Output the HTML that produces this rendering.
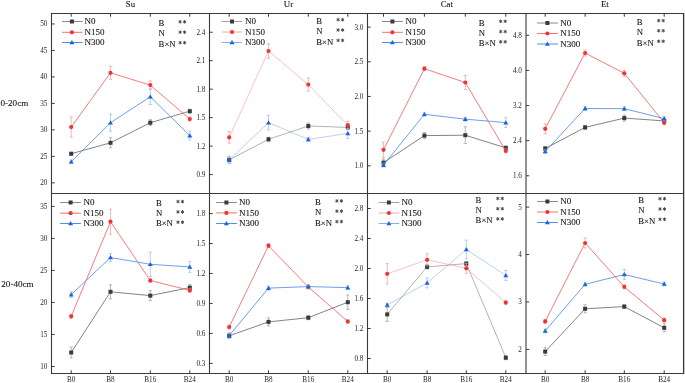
<!DOCTYPE html>
<html><head><meta charset="utf-8"><style>
html,body{margin:0;padding:0;background:#fff;width:685px;height:383px;overflow:hidden}
svg{display:block;will-change:transform}
text{font-family:"Liberation Serif", serif;fill:#151515;stroke:#151515;stroke-width:0.1px}
.ast{fill:#555;stroke:#555}
.tl{stroke:none;fill:#262626}
</style></head><body>
<svg width="685" height="383" viewBox="0 0 685 383">
<rect width="685" height="383" fill="#fff"/>
<line x1="51.5" y1="13.0" x2="51.5" y2="374.0" stroke="#3a3a3a" stroke-width="1.1"/>
<line x1="209.5" y1="13.0" x2="209.5" y2="374.0" stroke="#3a3a3a" stroke-width="1.1"/>
<line x1="367.5" y1="13.0" x2="367.5" y2="374.0" stroke="#3a3a3a" stroke-width="1.1"/>
<line x1="526" y1="13.0" x2="526" y2="374.0" stroke="#3a3a3a" stroke-width="1.1"/>
<line x1="683.5" y1="13.0" x2="683.5" y2="374.0" stroke="#3a3a3a" stroke-width="1.1"/>
<line x1="51.0" y1="13.5" x2="684.0" y2="13.5" stroke="#3a3a3a" stroke-width="1.1"/>
<line x1="51.0" y1="193.5" x2="684.0" y2="193.5" stroke="#3a3a3a" stroke-width="1.1"/>
<line x1="51.0" y1="373.5" x2="684.0" y2="373.5" stroke="#3a3a3a" stroke-width="1.1"/>
<line x1="684.5" y1="13.0" x2="684.5" y2="374.0" stroke="#c4c4c4" stroke-width="1"/>
<text x="130.5" y="6.9" font-size="8.8" text-anchor="middle">Su</text>
<text x="288.5" y="6.9" font-size="8.8" text-anchor="middle">Ur</text>
<text x="446.8" y="6.9" font-size="8.8" text-anchor="middle">Cat</text>
<text x="604.8" y="6.9" font-size="8.8" text-anchor="middle">Et</text>
<text x="0.5" y="106" font-size="9.1">0-20cm</text>
<text x="1.3" y="286.8" font-size="9.1">20-40cm</text>
<line x1="51.5" y1="23.93" x2="54.7" y2="23.93" stroke="#3a3a3a" stroke-width="1"/>
<text x="47.4" y="26.43" font-size="7.2" text-anchor="end" class="tl">50</text>
<line x1="51.5" y1="50.42" x2="54.7" y2="50.42" stroke="#3a3a3a" stroke-width="1"/>
<text x="47.4" y="52.92" font-size="7.2" text-anchor="end" class="tl">45</text>
<line x1="51.5" y1="76.91" x2="54.7" y2="76.91" stroke="#3a3a3a" stroke-width="1"/>
<text x="47.4" y="79.41" font-size="7.2" text-anchor="end" class="tl">40</text>
<line x1="51.5" y1="103.40" x2="54.7" y2="103.40" stroke="#3a3a3a" stroke-width="1"/>
<text x="47.4" y="105.90" font-size="7.2" text-anchor="end" class="tl">35</text>
<line x1="51.5" y1="129.89" x2="54.7" y2="129.89" stroke="#3a3a3a" stroke-width="1"/>
<text x="47.4" y="132.39" font-size="7.2" text-anchor="end" class="tl">30</text>
<line x1="51.5" y1="156.38" x2="54.7" y2="156.38" stroke="#3a3a3a" stroke-width="1"/>
<text x="47.4" y="158.88" font-size="7.2" text-anchor="end" class="tl">25</text>
<line x1="51.5" y1="182.87" x2="54.7" y2="182.87" stroke="#3a3a3a" stroke-width="1"/>
<text x="47.4" y="185.37" font-size="7.2" text-anchor="end" class="tl">20</text>
<line x1="71.2" y1="13.5" x2="71.2" y2="16.7" stroke="#3a3a3a" stroke-width="1"/>
<line x1="110.5" y1="13.5" x2="110.5" y2="16.7" stroke="#3a3a3a" stroke-width="1"/>
<line x1="150.3" y1="13.5" x2="150.3" y2="16.7" stroke="#3a3a3a" stroke-width="1"/>
<line x1="189.8" y1="13.5" x2="189.8" y2="16.7" stroke="#3a3a3a" stroke-width="1"/>
<path d="M71.20 152.25V155.25M69.60 152.25H72.80M69.60 155.25H72.80" stroke="#9a9a9a" stroke-width="0.7" fill="none"/>
<path d="M110.50 137.80V147.80M108.90 137.80H112.10M108.90 147.80H112.10" stroke="#9a9a9a" stroke-width="0.7" fill="none"/>
<path d="M150.30 119.70V125.70M148.70 119.70H151.90M148.70 125.70H151.90" stroke="#9a9a9a" stroke-width="0.7" fill="none"/>
<path d="M189.80 109.20V113.20M188.20 109.20H191.40M188.20 113.20H191.40" stroke="#9a9a9a" stroke-width="0.7" fill="none"/>
<polyline points="71.20,153.75 110.50,142.80 150.30,122.70 189.80,111.20" fill="none" stroke="#636363" stroke-width="0.8"/>
<rect x="69.20" y="151.75" width="4" height="4" fill="#3a3a3a"/>
<rect x="108.50" y="140.80" width="4" height="4" fill="#3a3a3a"/>
<rect x="148.30" y="120.70" width="4" height="4" fill="#3a3a3a"/>
<rect x="187.80" y="109.20" width="4" height="4" fill="#3a3a3a"/>
<path d="M71.20 117.00V137.20M69.60 117.00H72.80M69.60 137.20H72.80" stroke="#f29a9a" stroke-width="0.7" fill="none"/>
<path d="M110.50 66.20V79.40M108.90 66.20H112.10M108.90 79.40H112.10" stroke="#f29a9a" stroke-width="0.7" fill="none"/>
<path d="M150.30 80.90V89.30M148.70 80.90H151.90M148.70 89.30H151.90" stroke="#f29a9a" stroke-width="0.7" fill="none"/>
<path d="M189.80 117.10V121.10M188.20 117.10H191.40M188.20 121.10H191.40" stroke="#f29a9a" stroke-width="0.7" fill="none"/>
<polyline points="71.20,127.10 110.50,72.80 150.30,85.10 189.80,119.10" fill="none" stroke="#f05a5a" stroke-width="0.8"/>
<circle cx="71.20" cy="127.10" r="2.1" fill="#f03434"/>
<circle cx="110.50" cy="72.80" r="2.1" fill="#f03434"/>
<circle cx="150.30" cy="85.10" r="2.1" fill="#f03434"/>
<circle cx="189.80" cy="119.10" r="2.1" fill="#f03434"/>
<path d="M71.20 159.80V163.80M69.60 159.80H72.80M69.60 163.80H72.80" stroke="#98b8ee" stroke-width="0.7" fill="none"/>
<path d="M110.50 114.20V131.20M108.90 114.20H112.10M108.90 131.20H112.10" stroke="#98b8ee" stroke-width="0.7" fill="none"/>
<path d="M150.30 89.00V104.60M148.70 89.00H151.90M148.70 104.60H151.90" stroke="#98b8ee" stroke-width="0.7" fill="none"/>
<path d="M189.80 131.30V139.90M188.20 131.30H191.40M188.20 139.90H191.40" stroke="#98b8ee" stroke-width="0.7" fill="none"/>
<polyline points="71.20,161.80 110.50,122.70 150.30,96.80 189.80,135.60" fill="none" stroke="#4a86e2" stroke-width="0.8"/>
<path d="M71.20 159.40L73.70 163.60L68.70 163.60Z" fill="#1f63d8"/>
<path d="M110.50 120.30L113.00 124.50L108.00 124.50Z" fill="#1f63d8"/>
<path d="M150.30 94.40L152.80 98.60L147.80 98.60Z" fill="#1f63d8"/>
<path d="M189.80 133.20L192.30 137.40L187.30 137.40Z" fill="#1f63d8"/>
<line x1="62.1" y1="21.5" x2="82.7" y2="21.5" stroke="#7c7c7c" stroke-width="0.9"/>
<rect x="69.90" y="19.50" width="4" height="4" fill="#3a3a3a"/>
<text x="84.6" y="24.40" font-size="9">N0</text>
<line x1="62.1" y1="32.3" x2="82.7" y2="32.3" stroke="#f06060" stroke-width="0.9"/>
<circle cx="71.90" cy="32.30" r="2.1" fill="#f03434"/>
<text x="84.6" y="35.20" font-size="9">N150</text>
<line x1="62.1" y1="42.5" x2="82.7" y2="42.5" stroke="#3f7fe0" stroke-width="0.9"/>
<path d="M71.90 40.10L74.40 44.30L69.40 44.30Z" fill="#1f63d8"/>
<text x="84.6" y="45.40" font-size="9">N300</text>
<text x="158.6" y="26" font-size="8.7">B</text>
<path d="M180.10 20.05L180.10 23.55M181.62 20.93L178.58 22.68M181.62 22.68L178.58 20.93" stroke="#4a4a4a" stroke-width="1.0" fill="none"/>
<path d="M184.60 20.05L184.60 23.55M186.12 20.93L183.08 22.68M186.12 22.68L183.08 20.93" stroke="#4a4a4a" stroke-width="1.0" fill="none"/>
<text x="158.6" y="36.4" font-size="8.7">N</text>
<path d="M180.10 30.45L180.10 33.95M181.62 31.32L178.58 33.07M181.62 33.07L178.58 31.32" stroke="#4a4a4a" stroke-width="1.0" fill="none"/>
<path d="M184.60 30.45L184.60 33.95M186.12 31.32L183.08 33.07M186.12 33.07L183.08 31.32" stroke="#4a4a4a" stroke-width="1.0" fill="none"/>
<text x="158.6" y="46.9" font-size="8.7">B×N</text>
<path d="M180.10 40.95L180.10 44.45M181.62 41.82L178.58 43.57M181.62 43.57L178.58 41.82" stroke="#4a4a4a" stroke-width="1.0" fill="none"/>
<path d="M184.60 40.95L184.60 44.45M186.12 41.82L183.08 43.57M186.12 43.57L183.08 41.82" stroke="#4a4a4a" stroke-width="1.0" fill="none"/>
<line x1="209.5" y1="32.22" x2="212.7" y2="32.22" stroke="#3a3a3a" stroke-width="1"/>
<text x="205.4" y="34.72" font-size="7.2" text-anchor="end" class="tl">2.4</text>
<line x1="209.5" y1="60.69" x2="212.7" y2="60.69" stroke="#3a3a3a" stroke-width="1"/>
<text x="205.4" y="63.19" font-size="7.2" text-anchor="end" class="tl">2.1</text>
<line x1="209.5" y1="89.16" x2="212.7" y2="89.16" stroke="#3a3a3a" stroke-width="1"/>
<text x="205.4" y="91.66" font-size="7.2" text-anchor="end" class="tl">1.8</text>
<line x1="209.5" y1="117.63" x2="212.7" y2="117.63" stroke="#3a3a3a" stroke-width="1"/>
<text x="205.4" y="120.13" font-size="7.2" text-anchor="end" class="tl">1.5</text>
<line x1="209.5" y1="146.10" x2="212.7" y2="146.10" stroke="#3a3a3a" stroke-width="1"/>
<text x="205.4" y="148.60" font-size="7.2" text-anchor="end" class="tl">1.2</text>
<line x1="209.5" y1="174.57" x2="212.7" y2="174.57" stroke="#3a3a3a" stroke-width="1"/>
<text x="205.4" y="177.07" font-size="7.2" text-anchor="end" class="tl">0.9</text>
<line x1="229.2" y1="13.5" x2="229.2" y2="16.7" stroke="#3a3a3a" stroke-width="1"/>
<line x1="268.5" y1="13.5" x2="268.5" y2="16.7" stroke="#3a3a3a" stroke-width="1"/>
<line x1="308.3" y1="13.5" x2="308.3" y2="16.7" stroke="#3a3a3a" stroke-width="1"/>
<line x1="347.8" y1="13.5" x2="347.8" y2="16.7" stroke="#3a3a3a" stroke-width="1"/>
<path d="M229.20 156.20V163.40M227.60 156.20H230.80M227.60 163.40H230.80" stroke="#9a9a9a" stroke-width="0.7" fill="none"/>
<path d="M268.50 137.30V141.30M266.90 137.30H270.10M266.90 141.30H270.10" stroke="#9a9a9a" stroke-width="0.7" fill="none"/>
<path d="M308.30 123.00V129.00M306.70 123.00H309.90M306.70 129.00H309.90" stroke="#9a9a9a" stroke-width="0.7" fill="none"/>
<path d="M347.80 125.40V129.40M346.20 125.40H349.40M346.20 129.40H349.40" stroke="#9a9a9a" stroke-width="0.7" fill="none"/>
<polyline points="229.20,159.80 268.50,139.30 308.30,126.00 347.80,127.40" fill="none" stroke="#747474" stroke-width="0.55"/>
<rect x="227.20" y="157.80" width="4" height="4" fill="#3a3a3a"/>
<rect x="266.50" y="137.30" width="4" height="4" fill="#3a3a3a"/>
<rect x="306.30" y="124.00" width="4" height="4" fill="#3a3a3a"/>
<rect x="345.80" y="125.40" width="4" height="4" fill="#3a3a3a"/>
<path d="M229.20 131.60V143.20M227.60 131.60H230.80M227.60 143.20H230.80" stroke="#f29a9a" stroke-width="0.7" fill="none"/>
<path d="M268.50 43.80V58.20M266.90 43.80H270.10M266.90 58.20H270.10" stroke="#f29a9a" stroke-width="0.7" fill="none"/>
<path d="M308.30 78.00V91.20M306.70 78.00H309.90M306.70 91.20H309.90" stroke="#f29a9a" stroke-width="0.7" fill="none"/>
<path d="M347.80 121.20V129.20M346.20 121.20H349.40M346.20 129.20H349.40" stroke="#f29a9a" stroke-width="0.7" fill="none"/>
<polyline points="229.20,137.40 268.50,51.00 308.30,84.60 347.80,125.20" fill="none" stroke="#f39090" stroke-width="0.55"/>
<circle cx="229.20" cy="137.40" r="2.1" fill="#f03434"/>
<circle cx="268.50" cy="51.00" r="2.1" fill="#f03434"/>
<circle cx="308.30" cy="84.60" r="2.1" fill="#f03434"/>
<circle cx="347.80" cy="125.20" r="2.1" fill="#f03434"/>
<path d="M229.20 157.00V163.00M227.60 157.00H230.80M227.60 163.00H230.80" stroke="#98b8ee" stroke-width="0.7" fill="none"/>
<path d="M268.50 115.30V129.90M266.90 115.30H270.10M266.90 129.90H270.10" stroke="#98b8ee" stroke-width="0.7" fill="none"/>
<path d="M308.30 137.40V141.40M306.70 137.40H309.90M306.70 141.40H309.90" stroke="#98b8ee" stroke-width="0.7" fill="none"/>
<path d="M347.80 128.40V138.40M346.20 128.40H349.40M346.20 138.40H349.40" stroke="#98b8ee" stroke-width="0.7" fill="none"/>
<polyline points="229.20,160.00 268.50,122.60 308.30,139.40 347.80,133.40" fill="none" stroke="#80a8e8" stroke-width="0.55"/>
<path d="M229.20 157.60L231.70 161.80L226.70 161.80Z" fill="#1f63d8"/>
<path d="M268.50 120.20L271.00 124.40L266.00 124.40Z" fill="#1f63d8"/>
<path d="M308.30 137.00L310.80 141.20L305.80 141.20Z" fill="#1f63d8"/>
<path d="M347.80 131.00L350.30 135.20L345.30 135.20Z" fill="#1f63d8"/>
<line x1="221.7" y1="21.5" x2="242" y2="21.5" stroke="#999999" stroke-width="0.9"/>
<rect x="230.00" y="19.50" width="4" height="4" fill="#3a3a3a"/>
<text x="244.9" y="24.40" font-size="9">N0</text>
<line x1="221.7" y1="32.0" x2="242" y2="32.0" stroke="#f4a0a0" stroke-width="0.9"/>
<circle cx="232.00" cy="32.00" r="2.1" fill="#f03434"/>
<text x="244.9" y="34.90" font-size="9">N150</text>
<line x1="221.7" y1="42.5" x2="242" y2="42.5" stroke="#7aa4ea" stroke-width="0.9"/>
<path d="M232.00 40.10L234.50 44.30L229.50 44.30Z" fill="#1f63d8"/>
<text x="244.9" y="45.40" font-size="9">N300</text>
<text x="316.2" y="23.9" font-size="8.7">B</text>
<path d="M338.10 17.95L338.10 21.45M339.62 18.82L336.58 20.57M339.62 20.57L336.58 18.82" stroke="#4a4a4a" stroke-width="1.0" fill="none"/>
<path d="M342.60 17.95L342.60 21.45M344.12 18.82L341.08 20.57M344.12 20.57L341.08 18.82" stroke="#4a4a4a" stroke-width="1.0" fill="none"/>
<text x="316.2" y="34.2" font-size="8.7">N</text>
<path d="M338.10 28.25L338.10 31.75M339.62 29.13L336.58 30.88M339.62 30.88L336.58 29.13" stroke="#4a4a4a" stroke-width="1.0" fill="none"/>
<path d="M342.60 28.25L342.60 31.75M344.12 29.13L341.08 30.88M344.12 30.88L341.08 29.13" stroke="#4a4a4a" stroke-width="1.0" fill="none"/>
<text x="316.2" y="44.6" font-size="8.7">B×N</text>
<path d="M338.10 38.65L338.10 42.15M339.62 39.52L336.58 41.27M339.62 41.27L336.58 39.52" stroke="#4a4a4a" stroke-width="1.0" fill="none"/>
<path d="M342.60 38.65L342.60 42.15M344.12 39.52L341.08 41.27M344.12 41.27L341.08 39.52" stroke="#4a4a4a" stroke-width="1.0" fill="none"/>
<line x1="367.5" y1="27.10" x2="370.7" y2="27.10" stroke="#3a3a3a" stroke-width="1"/>
<text x="363.4" y="29.60" font-size="7.2" text-anchor="end" class="tl">3.0</text>
<line x1="367.5" y1="61.77" x2="370.7" y2="61.77" stroke="#3a3a3a" stroke-width="1"/>
<text x="363.4" y="64.28" font-size="7.2" text-anchor="end" class="tl">2.5</text>
<line x1="367.5" y1="96.45" x2="370.7" y2="96.45" stroke="#3a3a3a" stroke-width="1"/>
<text x="363.4" y="98.95" font-size="7.2" text-anchor="end" class="tl">2.0</text>
<line x1="367.5" y1="131.12" x2="370.7" y2="131.12" stroke="#3a3a3a" stroke-width="1"/>
<text x="363.4" y="133.62" font-size="7.2" text-anchor="end" class="tl">1.5</text>
<line x1="367.5" y1="165.80" x2="370.7" y2="165.80" stroke="#3a3a3a" stroke-width="1"/>
<text x="363.4" y="168.30" font-size="7.2" text-anchor="end" class="tl">1.0</text>
<line x1="383.5" y1="13.5" x2="383.5" y2="16.7" stroke="#3a3a3a" stroke-width="1"/>
<line x1="424.4" y1="13.5" x2="424.4" y2="16.7" stroke="#3a3a3a" stroke-width="1"/>
<line x1="465.3" y1="13.5" x2="465.3" y2="16.7" stroke="#3a3a3a" stroke-width="1"/>
<line x1="505.8" y1="13.5" x2="505.8" y2="16.7" stroke="#3a3a3a" stroke-width="1"/>
<path d="M383.50 159.10V166.10M381.90 159.10H385.10M381.90 166.10H385.10" stroke="#9a9a9a" stroke-width="0.7" fill="none"/>
<path d="M424.40 132.60V138.60M422.80 132.60H426.00M422.80 138.60H426.00" stroke="#9a9a9a" stroke-width="0.7" fill="none"/>
<path d="M465.30 126.80V143.60M463.70 126.80H466.90M463.70 143.60H466.90" stroke="#9a9a9a" stroke-width="0.7" fill="none"/>
<path d="M505.80 145.90V149.90M504.20 145.90H507.40M504.20 149.90H507.40" stroke="#9a9a9a" stroke-width="0.7" fill="none"/>
<polyline points="383.50,162.60 424.40,135.60 465.30,135.20 505.80,147.90" fill="none" stroke="#636363" stroke-width="0.8"/>
<rect x="381.50" y="160.60" width="4" height="4" fill="#3a3a3a"/>
<rect x="422.40" y="133.60" width="4" height="4" fill="#3a3a3a"/>
<rect x="463.30" y="133.20" width="4" height="4" fill="#3a3a3a"/>
<rect x="503.80" y="145.90" width="4" height="4" fill="#3a3a3a"/>
<path d="M383.50 142.10V157.50M381.90 142.10H385.10M381.90 157.50H385.10" stroke="#f29a9a" stroke-width="0.7" fill="none"/>
<path d="M424.40 66.70V70.70M422.80 66.70H426.00M422.80 70.70H426.00" stroke="#f29a9a" stroke-width="0.7" fill="none"/>
<path d="M465.30 75.50V89.50M463.70 75.50H466.90M463.70 89.50H466.90" stroke="#f29a9a" stroke-width="0.7" fill="none"/>
<path d="M505.80 148.90V152.90M504.20 148.90H507.40M504.20 152.90H507.40" stroke="#f29a9a" stroke-width="0.7" fill="none"/>
<polyline points="383.50,149.80 424.40,68.70 465.30,82.50 505.80,150.90" fill="none" stroke="#f05a5a" stroke-width="0.8"/>
<circle cx="383.50" cy="149.80" r="2.1" fill="#f03434"/>
<circle cx="424.40" cy="68.70" r="2.1" fill="#f03434"/>
<circle cx="465.30" cy="82.50" r="2.1" fill="#f03434"/>
<circle cx="505.80" cy="150.90" r="2.1" fill="#f03434"/>
<path d="M383.50 163.10V167.10M381.90 163.10H385.10M381.90 167.10H385.10" stroke="#98b8ee" stroke-width="0.7" fill="none"/>
<path d="M424.40 112.30V116.30M422.80 112.30H426.00M422.80 116.30H426.00" stroke="#98b8ee" stroke-width="0.7" fill="none"/>
<path d="M465.30 117.20V121.20M463.70 117.20H466.90M463.70 121.20H466.90" stroke="#98b8ee" stroke-width="0.7" fill="none"/>
<path d="M505.80 117.60V127.60M504.20 117.60H507.40M504.20 127.60H507.40" stroke="#98b8ee" stroke-width="0.7" fill="none"/>
<polyline points="383.50,165.10 424.40,114.30 465.30,119.20 505.80,122.60" fill="none" stroke="#4a86e2" stroke-width="0.8"/>
<path d="M383.50 162.70L386.00 166.90L381.00 166.90Z" fill="#1f63d8"/>
<path d="M424.40 111.90L426.90 116.10L421.90 116.10Z" fill="#1f63d8"/>
<path d="M465.30 116.80L467.80 121.00L462.80 121.00Z" fill="#1f63d8"/>
<path d="M505.80 120.20L508.30 124.40L503.30 124.40Z" fill="#1f63d8"/>
<line x1="382.1" y1="21.5" x2="402.8" y2="21.5" stroke="#7c7c7c" stroke-width="0.9"/>
<rect x="390.40" y="19.50" width="4" height="4" fill="#3a3a3a"/>
<text x="405.4" y="24.40" font-size="9">N0</text>
<line x1="382.1" y1="32.3" x2="402.8" y2="32.3" stroke="#f06060" stroke-width="0.9"/>
<circle cx="392.40" cy="32.30" r="2.1" fill="#f03434"/>
<text x="405.4" y="35.20" font-size="9">N150</text>
<line x1="382.1" y1="42.5" x2="402.8" y2="42.5" stroke="#3f7fe0" stroke-width="0.9"/>
<path d="M392.40 40.10L394.90 44.30L389.90 44.30Z" fill="#1f63d8"/>
<text x="405.4" y="45.40" font-size="9">N300</text>
<text x="478.8" y="25.5" font-size="8.7">B</text>
<path d="M500.70 19.55L500.70 23.05M502.22 20.43L499.18 22.18M502.22 22.18L499.18 20.43" stroke="#4a4a4a" stroke-width="1.0" fill="none"/>
<path d="M505.20 19.55L505.20 23.05M506.72 20.43L503.68 22.18M506.72 22.18L503.68 20.43" stroke="#4a4a4a" stroke-width="1.0" fill="none"/>
<text x="478.8" y="35.8" font-size="8.7">N</text>
<path d="M500.70 29.85L500.70 33.35M502.22 30.72L499.18 32.48M502.22 32.47L499.18 30.72" stroke="#4a4a4a" stroke-width="1.0" fill="none"/>
<path d="M505.20 29.85L505.20 33.35M506.72 30.72L503.68 32.48M506.72 32.47L503.68 30.72" stroke="#4a4a4a" stroke-width="1.0" fill="none"/>
<text x="478.8" y="46" font-size="8.7">B×N</text>
<path d="M500.70 40.05L500.70 43.55M502.22 40.92L499.18 42.67M502.22 42.67L499.18 40.92" stroke="#4a4a4a" stroke-width="1.0" fill="none"/>
<path d="M505.20 40.05L505.20 43.55M506.72 40.92L503.68 42.67M506.72 42.67L503.68 40.92" stroke="#4a4a4a" stroke-width="1.0" fill="none"/>
<line x1="526" y1="35.30" x2="529.2" y2="35.30" stroke="#3a3a3a" stroke-width="1"/>
<text x="521.9" y="37.80" font-size="7.2" text-anchor="end" class="tl">4.8</text>
<line x1="526" y1="70.42" x2="529.2" y2="70.42" stroke="#3a3a3a" stroke-width="1"/>
<text x="521.9" y="72.92" font-size="7.2" text-anchor="end" class="tl">4.0</text>
<line x1="526" y1="105.54" x2="529.2" y2="105.54" stroke="#3a3a3a" stroke-width="1"/>
<text x="521.9" y="108.04" font-size="7.2" text-anchor="end" class="tl">3.2</text>
<line x1="526" y1="140.66" x2="529.2" y2="140.66" stroke="#3a3a3a" stroke-width="1"/>
<text x="521.9" y="143.16" font-size="7.2" text-anchor="end" class="tl">2.4</text>
<line x1="526" y1="175.78" x2="529.2" y2="175.78" stroke="#3a3a3a" stroke-width="1"/>
<text x="521.9" y="178.28" font-size="7.2" text-anchor="end" class="tl">1.6</text>
<line x1="545.2" y1="13.5" x2="545.2" y2="16.7" stroke="#3a3a3a" stroke-width="1"/>
<line x1="585.1" y1="13.5" x2="585.1" y2="16.7" stroke="#3a3a3a" stroke-width="1"/>
<line x1="624.3" y1="13.5" x2="624.3" y2="16.7" stroke="#3a3a3a" stroke-width="1"/>
<line x1="664.2" y1="13.5" x2="664.2" y2="16.7" stroke="#3a3a3a" stroke-width="1"/>
<path d="M545.20 146.50V150.50M543.60 146.50H546.80M543.60 150.50H546.80" stroke="#9a9a9a" stroke-width="0.7" fill="none"/>
<path d="M585.10 125.40V129.40M583.50 125.40H586.70M583.50 129.40H586.70" stroke="#9a9a9a" stroke-width="0.7" fill="none"/>
<path d="M624.30 115.10V121.10M622.70 115.10H625.90M622.70 121.10H625.90" stroke="#9a9a9a" stroke-width="0.7" fill="none"/>
<path d="M664.20 118.90V122.90M662.60 118.90H665.80M662.60 122.90H665.80" stroke="#9a9a9a" stroke-width="0.7" fill="none"/>
<polyline points="545.20,148.50 585.10,127.40 624.30,118.10 664.20,120.90" fill="none" stroke="#636363" stroke-width="0.8"/>
<rect x="543.20" y="146.50" width="4" height="4" fill="#3a3a3a"/>
<rect x="583.10" y="125.40" width="4" height="4" fill="#3a3a3a"/>
<rect x="622.30" y="116.10" width="4" height="4" fill="#3a3a3a"/>
<rect x="662.20" y="118.90" width="4" height="4" fill="#3a3a3a"/>
<path d="M545.20 123.80V133.80M543.60 123.80H546.80M543.60 133.80H546.80" stroke="#f29a9a" stroke-width="0.7" fill="none"/>
<path d="M585.10 50.00V56.00M583.50 50.00H586.70M583.50 56.00H586.70" stroke="#f29a9a" stroke-width="0.7" fill="none"/>
<path d="M624.30 70.30V76.30M622.70 70.30H625.90M622.70 76.30H625.90" stroke="#f29a9a" stroke-width="0.7" fill="none"/>
<path d="M664.20 120.80V124.80M662.60 120.80H665.80M662.60 124.80H665.80" stroke="#f29a9a" stroke-width="0.7" fill="none"/>
<polyline points="545.20,128.80 585.10,53.00 624.30,73.30 664.20,122.80" fill="none" stroke="#f05a5a" stroke-width="0.8"/>
<circle cx="545.20" cy="128.80" r="2.1" fill="#f03434"/>
<circle cx="585.10" cy="53.00" r="2.1" fill="#f03434"/>
<circle cx="624.30" cy="73.30" r="2.1" fill="#f03434"/>
<circle cx="664.20" cy="122.80" r="2.1" fill="#f03434"/>
<path d="M545.20 149.40V153.40M543.60 149.40H546.80M543.60 153.40H546.80" stroke="#98b8ee" stroke-width="0.7" fill="none"/>
<path d="M585.10 106.50V110.50M583.50 106.50H586.70M583.50 110.50H586.70" stroke="#98b8ee" stroke-width="0.7" fill="none"/>
<path d="M624.30 106.70V110.70M622.70 106.70H625.90M622.70 110.70H625.90" stroke="#98b8ee" stroke-width="0.7" fill="none"/>
<path d="M664.20 116.60V120.60M662.60 116.60H665.80M662.60 120.60H665.80" stroke="#98b8ee" stroke-width="0.7" fill="none"/>
<polyline points="545.20,151.40 585.10,108.50 624.30,108.70 664.20,118.60" fill="none" stroke="#4a86e2" stroke-width="0.8"/>
<path d="M545.20 149.00L547.70 153.20L542.70 153.20Z" fill="#1f63d8"/>
<path d="M585.10 106.10L587.60 110.30L582.60 110.30Z" fill="#1f63d8"/>
<path d="M624.30 106.30L626.80 110.50L621.80 110.50Z" fill="#1f63d8"/>
<path d="M664.20 116.20L666.70 120.40L661.70 120.40Z" fill="#1f63d8"/>
<line x1="537.1" y1="23.0" x2="557.9" y2="23.0" stroke="#7c7c7c" stroke-width="0.9"/>
<rect x="545.40" y="21.00" width="4" height="4" fill="#3a3a3a"/>
<text x="560.3" y="25.90" font-size="9">N0</text>
<line x1="537.1" y1="33.5" x2="557.9" y2="33.5" stroke="#f06060" stroke-width="0.9"/>
<circle cx="547.40" cy="33.50" r="2.1" fill="#f03434"/>
<text x="560.3" y="36.40" font-size="9">N150</text>
<line x1="537.1" y1="44.0" x2="557.9" y2="44.0" stroke="#3f7fe0" stroke-width="0.9"/>
<path d="M547.40 41.60L549.90 45.80L544.90 45.80Z" fill="#1f63d8"/>
<text x="560.3" y="46.90" font-size="9">N300</text>
<text x="636.8" y="24.8" font-size="8.7">B</text>
<path d="M658.70 18.85L658.70 22.35M660.22 19.73L657.18 21.48M660.22 21.48L657.18 19.73" stroke="#4a4a4a" stroke-width="1.0" fill="none"/>
<path d="M663.20 18.85L663.20 22.35M664.72 19.73L661.68 21.48M664.72 21.48L661.68 19.73" stroke="#4a4a4a" stroke-width="1.0" fill="none"/>
<text x="636.8" y="34.9" font-size="8.7">N</text>
<path d="M658.70 28.95L658.70 32.45M660.22 29.82L657.18 31.57M660.22 31.57L657.18 29.82" stroke="#4a4a4a" stroke-width="1.0" fill="none"/>
<path d="M663.20 28.95L663.20 32.45M664.72 29.82L661.68 31.57M664.72 31.57L661.68 29.82" stroke="#4a4a4a" stroke-width="1.0" fill="none"/>
<text x="636.8" y="45.5" font-size="8.7">B×N</text>
<path d="M658.70 39.55L658.70 43.05M660.22 40.42L657.18 42.17M660.22 42.17L657.18 40.42" stroke="#4a4a4a" stroke-width="1.0" fill="none"/>
<path d="M663.20 39.55L663.20 43.05M664.72 40.42L661.68 42.17M664.72 42.17L661.68 40.42" stroke="#4a4a4a" stroke-width="1.0" fill="none"/>
<line x1="51.5" y1="206.40" x2="54.7" y2="206.40" stroke="#3a3a3a" stroke-width="1"/>
<text x="47.4" y="208.90" font-size="7.2" text-anchor="end" class="tl">35</text>
<line x1="51.5" y1="238.42" x2="54.7" y2="238.42" stroke="#3a3a3a" stroke-width="1"/>
<text x="47.4" y="240.92" font-size="7.2" text-anchor="end" class="tl">30</text>
<line x1="51.5" y1="270.44" x2="54.7" y2="270.44" stroke="#3a3a3a" stroke-width="1"/>
<text x="47.4" y="272.94" font-size="7.2" text-anchor="end" class="tl">25</text>
<line x1="51.5" y1="302.46" x2="54.7" y2="302.46" stroke="#3a3a3a" stroke-width="1"/>
<text x="47.4" y="304.96" font-size="7.2" text-anchor="end" class="tl">20</text>
<line x1="51.5" y1="334.48" x2="54.7" y2="334.48" stroke="#3a3a3a" stroke-width="1"/>
<text x="47.4" y="336.98" font-size="7.2" text-anchor="end" class="tl">15</text>
<line x1="51.5" y1="366.50" x2="54.7" y2="366.50" stroke="#3a3a3a" stroke-width="1"/>
<text x="47.4" y="369.00" font-size="7.2" text-anchor="end" class="tl">10</text>
<line x1="71.2" y1="373.5" x2="71.2" y2="370.3" stroke="#3a3a3a" stroke-width="1"/>
<text x="71.2" y="381.8" font-size="7.2" text-anchor="middle" class="tl">B0</text>
<line x1="110.5" y1="373.5" x2="110.5" y2="370.3" stroke="#3a3a3a" stroke-width="1"/>
<text x="110.5" y="381.8" font-size="7.2" text-anchor="middle" class="tl">B8</text>
<line x1="150.3" y1="373.5" x2="150.3" y2="370.3" stroke="#3a3a3a" stroke-width="1"/>
<text x="150.3" y="381.8" font-size="7.2" text-anchor="middle" class="tl">B16</text>
<line x1="189.8" y1="373.5" x2="189.8" y2="370.3" stroke="#3a3a3a" stroke-width="1"/>
<text x="189.8" y="381.8" font-size="7.2" text-anchor="middle" class="tl">B24</text>
<path d="M71.20 347.10V357.90M69.60 347.10H72.80M69.60 357.90H72.80" stroke="#9a9a9a" stroke-width="0.7" fill="none"/>
<path d="M110.50 284.80V298.80M108.90 284.80H112.10M108.90 298.80H112.10" stroke="#9a9a9a" stroke-width="0.7" fill="none"/>
<path d="M150.30 290.60V300.60M148.70 290.60H151.90M148.70 300.60H151.90" stroke="#9a9a9a" stroke-width="0.7" fill="none"/>
<path d="M189.80 284.60V290.60M188.20 284.60H191.40M188.20 290.60H191.40" stroke="#9a9a9a" stroke-width="0.7" fill="none"/>
<polyline points="71.20,352.50 110.50,291.80 150.30,295.60 189.80,287.60" fill="none" stroke="#636363" stroke-width="0.8"/>
<rect x="69.20" y="350.50" width="4" height="4" fill="#3a3a3a"/>
<rect x="108.50" y="289.80" width="4" height="4" fill="#3a3a3a"/>
<rect x="148.30" y="293.60" width="4" height="4" fill="#3a3a3a"/>
<rect x="187.80" y="285.60" width="4" height="4" fill="#3a3a3a"/>
<path d="M71.20 314.30V318.30M69.60 314.30H72.80M69.60 318.30H72.80" stroke="#f29a9a" stroke-width="0.7" fill="none"/>
<path d="M110.50 209.20V234.20M108.90 209.20H112.10M108.90 234.20H112.10" stroke="#f29a9a" stroke-width="0.7" fill="none"/>
<path d="M150.30 278.50V282.50M148.70 278.50H151.90M148.70 282.50H151.90" stroke="#f29a9a" stroke-width="0.7" fill="none"/>
<path d="M189.80 288.40V292.40M188.20 288.40H191.40M188.20 292.40H191.40" stroke="#f29a9a" stroke-width="0.7" fill="none"/>
<polyline points="71.20,316.30 110.50,221.70 150.30,280.50 189.80,290.40" fill="none" stroke="#f05a5a" stroke-width="0.8"/>
<circle cx="71.20" cy="316.30" r="2.1" fill="#f03434"/>
<circle cx="110.50" cy="221.70" r="2.1" fill="#f03434"/>
<circle cx="150.30" cy="280.50" r="2.1" fill="#f03434"/>
<circle cx="189.80" cy="290.40" r="2.1" fill="#f03434"/>
<path d="M71.20 291.60V297.60M69.60 291.60H72.80M69.60 297.60H72.80" stroke="#98b8ee" stroke-width="0.7" fill="none"/>
<path d="M110.50 253.50V261.50M108.90 253.50H112.10M108.90 261.50H112.10" stroke="#98b8ee" stroke-width="0.7" fill="none"/>
<path d="M150.30 252.10V276.50M148.70 252.10H151.90M148.70 276.50H151.90" stroke="#98b8ee" stroke-width="0.7" fill="none"/>
<path d="M189.80 261.40V272.40M188.20 261.40H191.40M188.20 272.40H191.40" stroke="#98b8ee" stroke-width="0.7" fill="none"/>
<polyline points="71.20,294.60 110.50,257.50 150.30,264.30 189.80,266.90" fill="none" stroke="#4a86e2" stroke-width="0.8"/>
<path d="M71.20 292.20L73.70 296.40L68.70 296.40Z" fill="#1f63d8"/>
<path d="M110.50 255.10L113.00 259.30L108.00 259.30Z" fill="#1f63d8"/>
<path d="M150.30 261.90L152.80 266.10L147.80 266.10Z" fill="#1f63d8"/>
<path d="M189.80 264.50L192.30 268.70L187.30 268.70Z" fill="#1f63d8"/>
<line x1="60.1" y1="202.5" x2="80.9" y2="202.5" stroke="#7c7c7c" stroke-width="0.9"/>
<rect x="68.60" y="200.50" width="4" height="4" fill="#3a3a3a"/>
<text x="83.5" y="205.40" font-size="9">N0</text>
<line x1="60.1" y1="213.2" x2="80.9" y2="213.2" stroke="#f06060" stroke-width="0.9"/>
<circle cx="70.60" cy="213.20" r="2.1" fill="#f03434"/>
<text x="83.5" y="216.10" font-size="9">N150</text>
<line x1="60.1" y1="223.5" x2="80.9" y2="223.5" stroke="#3f7fe0" stroke-width="0.9"/>
<path d="M70.60 221.10L73.10 225.30L68.10 225.30Z" fill="#1f63d8"/>
<text x="83.5" y="226.40" font-size="9">N300</text>
<text x="155.9" y="205.8" font-size="8.7">B</text>
<path d="M178.00 199.85L178.00 203.35M179.52 200.73L176.48 202.48M179.52 202.48L176.48 200.73" stroke="#4a4a4a" stroke-width="1.0" fill="none"/>
<path d="M182.50 199.85L182.50 203.35M184.02 200.73L180.98 202.48M184.02 202.48L180.98 200.73" stroke="#4a4a4a" stroke-width="1.0" fill="none"/>
<text x="155.9" y="216.1" font-size="8.7">N</text>
<path d="M178.00 210.15L178.00 213.65M179.52 211.03L176.48 212.78M179.52 212.78L176.48 211.03" stroke="#4a4a4a" stroke-width="1.0" fill="none"/>
<path d="M182.50 210.15L182.50 213.65M184.02 211.03L180.98 212.78M184.02 212.78L180.98 211.03" stroke="#4a4a4a" stroke-width="1.0" fill="none"/>
<text x="155.9" y="226.4" font-size="8.7">B×N</text>
<path d="M178.00 220.45L178.00 223.95M179.52 221.33L176.48 223.08M179.52 223.08L176.48 221.33" stroke="#4a4a4a" stroke-width="1.0" fill="none"/>
<path d="M182.50 220.45L182.50 223.95M184.02 221.33L180.98 223.08M184.02 223.08L180.98 221.33" stroke="#4a4a4a" stroke-width="1.0" fill="none"/>
<line x1="209.5" y1="213.56" x2="212.7" y2="213.56" stroke="#3a3a3a" stroke-width="1"/>
<text x="205.4" y="216.06" font-size="7.2" text-anchor="end" class="tl">1.8</text>
<line x1="209.5" y1="243.52" x2="212.7" y2="243.52" stroke="#3a3a3a" stroke-width="1"/>
<text x="205.4" y="246.02" font-size="7.2" text-anchor="end" class="tl">1.5</text>
<line x1="209.5" y1="273.48" x2="212.7" y2="273.48" stroke="#3a3a3a" stroke-width="1"/>
<text x="205.4" y="275.98" font-size="7.2" text-anchor="end" class="tl">1.2</text>
<line x1="209.5" y1="303.43" x2="212.7" y2="303.43" stroke="#3a3a3a" stroke-width="1"/>
<text x="205.4" y="305.93" font-size="7.2" text-anchor="end" class="tl">0.9</text>
<line x1="209.5" y1="333.39" x2="212.7" y2="333.39" stroke="#3a3a3a" stroke-width="1"/>
<text x="205.4" y="335.89" font-size="7.2" text-anchor="end" class="tl">0.6</text>
<line x1="209.5" y1="363.35" x2="212.7" y2="363.35" stroke="#3a3a3a" stroke-width="1"/>
<text x="205.4" y="365.85" font-size="7.2" text-anchor="end" class="tl">0.3</text>
<line x1="229.2" y1="373.5" x2="229.2" y2="370.3" stroke="#3a3a3a" stroke-width="1"/>
<text x="229.2" y="381.8" font-size="7.2" text-anchor="middle" class="tl">B0</text>
<line x1="268.5" y1="373.5" x2="268.5" y2="370.3" stroke="#3a3a3a" stroke-width="1"/>
<text x="268.5" y="381.8" font-size="7.2" text-anchor="middle" class="tl">B8</text>
<line x1="308.3" y1="373.5" x2="308.3" y2="370.3" stroke="#3a3a3a" stroke-width="1"/>
<text x="308.3" y="381.8" font-size="7.2" text-anchor="middle" class="tl">B16</text>
<line x1="347.8" y1="373.5" x2="347.8" y2="370.3" stroke="#3a3a3a" stroke-width="1"/>
<text x="347.8" y="381.8" font-size="7.2" text-anchor="middle" class="tl">B24</text>
<path d="M229.20 333.80V337.80M227.60 333.80H230.80M227.60 337.80H230.80" stroke="#9a9a9a" stroke-width="0.7" fill="none"/>
<path d="M268.50 317.90V325.90M266.90 317.90H270.10M266.90 325.90H270.10" stroke="#9a9a9a" stroke-width="0.7" fill="none"/>
<path d="M308.30 315.70V319.70M306.70 315.70H309.90M306.70 319.70H309.90" stroke="#9a9a9a" stroke-width="0.7" fill="none"/>
<path d="M347.80 295.00V309.40M346.20 295.00H349.40M346.20 309.40H349.40" stroke="#9a9a9a" stroke-width="0.7" fill="none"/>
<polyline points="229.20,335.80 268.50,321.90 308.30,317.70 347.80,302.20" fill="none" stroke="#636363" stroke-width="0.8"/>
<rect x="227.20" y="333.80" width="4" height="4" fill="#3a3a3a"/>
<rect x="266.50" y="319.90" width="4" height="4" fill="#3a3a3a"/>
<rect x="306.30" y="315.70" width="4" height="4" fill="#3a3a3a"/>
<rect x="345.80" y="300.20" width="4" height="4" fill="#3a3a3a"/>
<path d="M229.20 325.10V329.10M227.60 325.10H230.80M227.60 329.10H230.80" stroke="#f29a9a" stroke-width="0.7" fill="none"/>
<path d="M268.50 243.70V247.70M266.90 243.70H270.10M266.90 247.70H270.10" stroke="#f29a9a" stroke-width="0.7" fill="none"/>
<path d="M308.30 285.00V289.00M306.70 285.00H309.90M306.70 289.00H309.90" stroke="#f29a9a" stroke-width="0.7" fill="none"/>
<path d="M347.80 319.50V323.50M346.20 319.50H349.40M346.20 323.50H349.40" stroke="#f29a9a" stroke-width="0.7" fill="none"/>
<polyline points="229.20,327.10 268.50,245.70 308.30,287.00 347.80,321.50" fill="none" stroke="#f05a5a" stroke-width="0.8"/>
<circle cx="229.20" cy="327.10" r="2.1" fill="#f03434"/>
<circle cx="268.50" cy="245.70" r="2.1" fill="#f03434"/>
<circle cx="308.30" cy="287.00" r="2.1" fill="#f03434"/>
<circle cx="347.80" cy="321.50" r="2.1" fill="#f03434"/>
<path d="M229.20 332.60V338.60M227.60 332.60H230.80M227.60 338.60H230.80" stroke="#98b8ee" stroke-width="0.7" fill="none"/>
<path d="M268.50 286.10V290.10M266.90 286.10H270.10M266.90 290.10H270.10" stroke="#98b8ee" stroke-width="0.7" fill="none"/>
<path d="M308.30 284.60V288.60M306.70 284.60H309.90M306.70 288.60H309.90" stroke="#98b8ee" stroke-width="0.7" fill="none"/>
<path d="M347.80 285.60V289.60M346.20 285.60H349.40M346.20 289.60H349.40" stroke="#98b8ee" stroke-width="0.7" fill="none"/>
<polyline points="229.20,335.60 268.50,288.10 308.30,286.60 347.80,287.60" fill="none" stroke="#4a86e2" stroke-width="0.8"/>
<path d="M229.20 333.20L231.70 337.40L226.70 337.40Z" fill="#1f63d8"/>
<path d="M268.50 285.70L271.00 289.90L266.00 289.90Z" fill="#1f63d8"/>
<path d="M308.30 284.20L310.80 288.40L305.80 288.40Z" fill="#1f63d8"/>
<path d="M347.80 285.20L350.30 289.40L345.30 289.40Z" fill="#1f63d8"/>
<line x1="216.2" y1="202.5" x2="236.9" y2="202.5" stroke="#7c7c7c" stroke-width="0.9"/>
<rect x="224.40" y="200.50" width="4" height="4" fill="#3a3a3a"/>
<text x="239.1" y="205.40" font-size="9">N0</text>
<line x1="216.2" y1="212.9" x2="236.9" y2="212.9" stroke="#f06060" stroke-width="0.9"/>
<circle cx="226.40" cy="212.90" r="2.1" fill="#f03434"/>
<text x="239.1" y="215.80" font-size="9">N150</text>
<line x1="216.2" y1="223.5" x2="236.9" y2="223.5" stroke="#3f7fe0" stroke-width="0.9"/>
<path d="M226.40 221.10L228.90 225.30L223.90 225.30Z" fill="#1f63d8"/>
<text x="239.1" y="226.40" font-size="9">N300</text>
<text x="315" y="205.1" font-size="8.7">B</text>
<path d="M336.90 199.15L336.90 202.65M338.42 200.03L335.38 201.78M338.42 201.78L335.38 200.03" stroke="#4a4a4a" stroke-width="1.0" fill="none"/>
<path d="M341.40 199.15L341.40 202.65M342.92 200.03L339.88 201.78M342.92 201.78L339.88 200.03" stroke="#4a4a4a" stroke-width="1.0" fill="none"/>
<text x="315" y="215.4" font-size="8.7">N</text>
<path d="M336.90 209.45L336.90 212.95M338.42 210.33L335.38 212.08M338.42 212.08L335.38 210.33" stroke="#4a4a4a" stroke-width="1.0" fill="none"/>
<path d="M341.40 209.45L341.40 212.95M342.92 210.33L339.88 212.08M342.92 212.08L339.88 210.33" stroke="#4a4a4a" stroke-width="1.0" fill="none"/>
<text x="315" y="225.8" font-size="8.7">B×N</text>
<path d="M336.90 219.85L336.90 223.35M338.42 220.73L335.38 222.48M338.42 222.48L335.38 220.73" stroke="#4a4a4a" stroke-width="1.0" fill="none"/>
<path d="M341.40 219.85L341.40 223.35M342.92 220.73L339.88 222.48M342.92 222.48L339.88 220.73" stroke="#4a4a4a" stroke-width="1.0" fill="none"/>
<line x1="367.5" y1="208.50" x2="370.7" y2="208.50" stroke="#3a3a3a" stroke-width="1"/>
<text x="363.4" y="211.00" font-size="7.2" text-anchor="end" class="tl">2.8</text>
<line x1="367.5" y1="238.50" x2="370.7" y2="238.50" stroke="#3a3a3a" stroke-width="1"/>
<text x="363.4" y="241.00" font-size="7.2" text-anchor="end" class="tl">2.4</text>
<line x1="367.5" y1="268.50" x2="370.7" y2="268.50" stroke="#3a3a3a" stroke-width="1"/>
<text x="363.4" y="271.00" font-size="7.2" text-anchor="end" class="tl">2.0</text>
<line x1="367.5" y1="298.50" x2="370.7" y2="298.50" stroke="#3a3a3a" stroke-width="1"/>
<text x="363.4" y="301.00" font-size="7.2" text-anchor="end" class="tl">1.6</text>
<line x1="367.5" y1="328.50" x2="370.7" y2="328.50" stroke="#3a3a3a" stroke-width="1"/>
<text x="363.4" y="331.00" font-size="7.2" text-anchor="end" class="tl">1.2</text>
<line x1="367.5" y1="358.50" x2="370.7" y2="358.50" stroke="#3a3a3a" stroke-width="1"/>
<text x="363.4" y="361.00" font-size="7.2" text-anchor="end" class="tl">0.8</text>
<line x1="387.2" y1="373.5" x2="387.2" y2="370.3" stroke="#3a3a3a" stroke-width="1"/>
<text x="387.2" y="381.8" font-size="7.2" text-anchor="middle" class="tl">B0</text>
<line x1="427.1" y1="373.5" x2="427.1" y2="370.3" stroke="#3a3a3a" stroke-width="1"/>
<text x="427.1" y="381.8" font-size="7.2" text-anchor="middle" class="tl">B8</text>
<line x1="466.3" y1="373.5" x2="466.3" y2="370.3" stroke="#3a3a3a" stroke-width="1"/>
<text x="466.3" y="381.8" font-size="7.2" text-anchor="middle" class="tl">B16</text>
<line x1="505.8" y1="373.5" x2="505.8" y2="370.3" stroke="#3a3a3a" stroke-width="1"/>
<text x="505.8" y="381.8" font-size="7.2" text-anchor="middle" class="tl">B24</text>
<path d="M387.20 307.40V321.40M385.60 307.40H388.80M385.60 321.40H388.80" stroke="#9a9a9a" stroke-width="0.7" fill="none"/>
<path d="M427.10 264.90V268.90M425.50 264.90H428.70M425.50 268.90H428.70" stroke="#9a9a9a" stroke-width="0.7" fill="none"/>
<path d="M466.30 261.60V265.60M464.70 261.60H467.90M464.70 265.60H467.90" stroke="#9a9a9a" stroke-width="0.7" fill="none"/>
<path d="M505.80 355.70V359.70M504.20 355.70H507.40M504.20 359.70H507.40" stroke="#9a9a9a" stroke-width="0.7" fill="none"/>
<polyline points="387.20,314.40 427.10,266.90 466.30,263.60 505.80,357.70" fill="none" stroke="#747474" stroke-width="0.55"/>
<rect x="385.20" y="312.40" width="4" height="4" fill="#3a3a3a"/>
<rect x="425.10" y="264.90" width="4" height="4" fill="#3a3a3a"/>
<rect x="464.30" y="261.60" width="4" height="4" fill="#3a3a3a"/>
<rect x="503.80" y="355.70" width="4" height="4" fill="#3a3a3a"/>
<path d="M387.20 263.60V284.00M385.60 263.60H388.80M385.60 284.00H388.80" stroke="#f29a9a" stroke-width="0.7" fill="none"/>
<path d="M427.10 253.80V265.80M425.50 253.80H428.70M425.50 265.80H428.70" stroke="#f29a9a" stroke-width="0.7" fill="none"/>
<path d="M466.30 263.30V273.30M464.70 263.30H467.90M464.70 273.30H467.90" stroke="#f29a9a" stroke-width="0.7" fill="none"/>
<path d="M505.80 300.60V304.60M504.20 300.60H507.40M504.20 304.60H507.40" stroke="#f29a9a" stroke-width="0.7" fill="none"/>
<polyline points="387.20,273.80 427.10,259.80 466.30,268.30 505.80,302.60" fill="none" stroke="#f39090" stroke-width="0.55"/>
<circle cx="387.20" cy="273.80" r="2.1" fill="#f03434"/>
<circle cx="427.10" cy="259.80" r="2.1" fill="#f03434"/>
<circle cx="466.30" cy="268.30" r="2.1" fill="#f03434"/>
<circle cx="505.80" cy="302.60" r="2.1" fill="#f03434"/>
<path d="M387.20 303.00V307.00M385.60 303.00H388.80M385.60 307.00H388.80" stroke="#98b8ee" stroke-width="0.7" fill="none"/>
<path d="M427.10 277.90V287.90M425.50 277.90H428.70M425.50 287.90H428.70" stroke="#98b8ee" stroke-width="0.7" fill="none"/>
<path d="M466.30 240.10V258.90M464.70 240.10H467.90M464.70 258.90H467.90" stroke="#98b8ee" stroke-width="0.7" fill="none"/>
<path d="M505.80 270.40V280.40M504.20 270.40H507.40M504.20 280.40H507.40" stroke="#98b8ee" stroke-width="0.7" fill="none"/>
<polyline points="387.20,305.00 427.10,282.90 466.30,249.50 505.80,275.40" fill="none" stroke="#80a8e8" stroke-width="0.55"/>
<path d="M387.20 302.60L389.70 306.80L384.70 306.80Z" fill="#1f63d8"/>
<path d="M427.10 280.50L429.60 284.70L424.60 284.70Z" fill="#1f63d8"/>
<path d="M466.30 247.10L468.80 251.30L463.80 251.30Z" fill="#1f63d8"/>
<path d="M505.80 273.00L508.30 277.20L503.30 277.20Z" fill="#1f63d8"/>
<line x1="378.7" y1="202.5" x2="399.3" y2="202.5" stroke="#999999" stroke-width="0.9"/>
<rect x="386.90" y="200.50" width="4" height="4" fill="#3a3a3a"/>
<text x="401.6" y="205.40" font-size="9">N0</text>
<line x1="378.7" y1="213.0" x2="399.3" y2="213.0" stroke="#f4a0a0" stroke-width="0.9"/>
<circle cx="388.90" cy="213.00" r="2.1" fill="#f03434"/>
<text x="401.6" y="215.90" font-size="9">N150</text>
<line x1="378.7" y1="223.5" x2="399.3" y2="223.5" stroke="#7aa4ea" stroke-width="0.9"/>
<path d="M388.90 221.10L391.40 225.30L386.40 225.30Z" fill="#1f63d8"/>
<text x="401.6" y="226.40" font-size="9">N300</text>
<text x="475.6" y="202.7" font-size="8.7">B</text>
<path d="M497.80 196.75L497.80 200.25M499.32 197.62L496.28 199.38M499.32 199.38L496.28 197.62" stroke="#4a4a4a" stroke-width="1.0" fill="none"/>
<path d="M502.30 196.75L502.30 200.25M503.82 197.62L500.78 199.38M503.82 199.38L500.78 197.62" stroke="#4a4a4a" stroke-width="1.0" fill="none"/>
<text x="475.6" y="212.9" font-size="8.7">N</text>
<path d="M497.80 206.95L497.80 210.45M499.32 207.83L496.28 209.58M499.32 209.58L496.28 207.83" stroke="#4a4a4a" stroke-width="1.0" fill="none"/>
<path d="M502.30 206.95L502.30 210.45M503.82 207.83L500.78 209.58M503.82 209.58L500.78 207.83" stroke="#4a4a4a" stroke-width="1.0" fill="none"/>
<text x="475.6" y="223.1" font-size="8.7">B×N</text>
<path d="M497.80 217.15L497.80 220.65M499.32 218.03L496.28 219.78M499.32 219.78L496.28 218.03" stroke="#4a4a4a" stroke-width="1.0" fill="none"/>
<path d="M502.30 217.15L502.30 220.65M503.82 218.03L500.78 219.78M503.82 219.78L500.78 218.03" stroke="#4a4a4a" stroke-width="1.0" fill="none"/>
<line x1="526" y1="207.10" x2="529.2" y2="207.10" stroke="#3a3a3a" stroke-width="1"/>
<text x="521.9" y="209.60" font-size="7.2" text-anchor="end" class="tl">5</text>
<line x1="526" y1="254.53" x2="529.2" y2="254.53" stroke="#3a3a3a" stroke-width="1"/>
<text x="521.9" y="257.03" font-size="7.2" text-anchor="end" class="tl">4</text>
<line x1="526" y1="301.96" x2="529.2" y2="301.96" stroke="#3a3a3a" stroke-width="1"/>
<text x="521.9" y="304.46" font-size="7.2" text-anchor="end" class="tl">3</text>
<line x1="526" y1="349.39" x2="529.2" y2="349.39" stroke="#3a3a3a" stroke-width="1"/>
<text x="521.9" y="351.89" font-size="7.2" text-anchor="end" class="tl">2</text>
<line x1="545.2" y1="373.5" x2="545.2" y2="370.3" stroke="#3a3a3a" stroke-width="1"/>
<text x="545.2" y="381.8" font-size="7.2" text-anchor="middle" class="tl">B0</text>
<line x1="585.1" y1="373.5" x2="585.1" y2="370.3" stroke="#3a3a3a" stroke-width="1"/>
<text x="585.1" y="381.8" font-size="7.2" text-anchor="middle" class="tl">B8</text>
<line x1="624.3" y1="373.5" x2="624.3" y2="370.3" stroke="#3a3a3a" stroke-width="1"/>
<text x="624.3" y="381.8" font-size="7.2" text-anchor="middle" class="tl">B16</text>
<line x1="664.2" y1="373.5" x2="664.2" y2="370.3" stroke="#3a3a3a" stroke-width="1"/>
<text x="664.2" y="381.8" font-size="7.2" text-anchor="middle" class="tl">B24</text>
<path d="M545.20 347.60V355.60M543.60 347.60H546.80M543.60 355.60H546.80" stroke="#9a9a9a" stroke-width="0.7" fill="none"/>
<path d="M585.10 304.80V312.80M583.50 304.80H586.70M583.50 312.80H586.70" stroke="#9a9a9a" stroke-width="0.7" fill="none"/>
<path d="M624.30 304.60V308.60M622.70 304.60H625.90M622.70 308.60H625.90" stroke="#9a9a9a" stroke-width="0.7" fill="none"/>
<path d="M664.20 323.80V331.80M662.60 323.80H665.80M662.60 331.80H665.80" stroke="#9a9a9a" stroke-width="0.7" fill="none"/>
<polyline points="545.20,351.60 585.10,308.80 624.30,306.60 664.20,327.80" fill="none" stroke="#636363" stroke-width="0.8"/>
<rect x="543.20" y="349.60" width="4" height="4" fill="#3a3a3a"/>
<rect x="583.10" y="306.80" width="4" height="4" fill="#3a3a3a"/>
<rect x="622.30" y="304.60" width="4" height="4" fill="#3a3a3a"/>
<rect x="662.20" y="325.80" width="4" height="4" fill="#3a3a3a"/>
<path d="M545.20 319.40V323.40M543.60 319.40H546.80M543.60 323.40H546.80" stroke="#f29a9a" stroke-width="0.7" fill="none"/>
<path d="M585.10 238.00V248.00M583.50 238.00H586.70M583.50 248.00H586.70" stroke="#f29a9a" stroke-width="0.7" fill="none"/>
<path d="M624.30 284.80V288.80M622.70 284.80H625.90M622.70 288.80H625.90" stroke="#f29a9a" stroke-width="0.7" fill="none"/>
<path d="M664.20 318.20V322.20M662.60 318.20H665.80M662.60 322.20H665.80" stroke="#f29a9a" stroke-width="0.7" fill="none"/>
<polyline points="545.20,321.40 585.10,243.00 624.30,286.80 664.20,320.20" fill="none" stroke="#f05a5a" stroke-width="0.8"/>
<circle cx="545.20" cy="321.40" r="2.1" fill="#f03434"/>
<circle cx="585.10" cy="243.00" r="2.1" fill="#f03434"/>
<circle cx="624.30" cy="286.80" r="2.1" fill="#f03434"/>
<circle cx="664.20" cy="320.20" r="2.1" fill="#f03434"/>
<path d="M545.20 328.90V332.90M543.60 328.90H546.80M543.60 332.90H546.80" stroke="#98b8ee" stroke-width="0.7" fill="none"/>
<path d="M585.10 282.30V286.30M583.50 282.30H586.70M583.50 286.30H586.70" stroke="#98b8ee" stroke-width="0.7" fill="none"/>
<path d="M624.30 269.50V279.50M622.70 269.50H625.90M622.70 279.50H625.90" stroke="#98b8ee" stroke-width="0.7" fill="none"/>
<path d="M664.20 282.00V286.00M662.60 282.00H665.80M662.60 286.00H665.80" stroke="#98b8ee" stroke-width="0.7" fill="none"/>
<polyline points="545.20,330.90 585.10,284.30 624.30,274.50 664.20,284.00" fill="none" stroke="#4a86e2" stroke-width="0.8"/>
<path d="M545.20 328.50L547.70 332.70L542.70 332.70Z" fill="#1f63d8"/>
<path d="M585.10 281.90L587.60 286.10L582.60 286.10Z" fill="#1f63d8"/>
<path d="M624.30 272.10L626.80 276.30L621.80 276.30Z" fill="#1f63d8"/>
<path d="M664.20 281.60L666.70 285.80L661.70 285.80Z" fill="#1f63d8"/>
<line x1="537.1" y1="201.5" x2="557.9" y2="201.5" stroke="#7c7c7c" stroke-width="0.9"/>
<rect x="545.40" y="199.50" width="4" height="4" fill="#3a3a3a"/>
<text x="560.3" y="204.40" font-size="9">N0</text>
<line x1="537.1" y1="212.0" x2="557.9" y2="212.0" stroke="#f06060" stroke-width="0.9"/>
<circle cx="547.40" cy="212.00" r="2.1" fill="#f03434"/>
<text x="560.3" y="214.90" font-size="9">N150</text>
<line x1="537.1" y1="222.5" x2="557.9" y2="222.5" stroke="#3f7fe0" stroke-width="0.9"/>
<path d="M547.40 220.10L549.90 224.30L544.90 224.30Z" fill="#1f63d8"/>
<text x="560.3" y="225.40" font-size="9">N300</text>
<text x="638.3" y="202.9" font-size="8.7">B</text>
<path d="M660.00 196.95L660.00 200.45M661.52 197.83L658.48 199.58M661.52 199.58L658.48 197.83" stroke="#4a4a4a" stroke-width="1.0" fill="none"/>
<path d="M664.50 196.95L664.50 200.45M666.02 197.83L662.98 199.58M666.02 199.58L662.98 197.83" stroke="#4a4a4a" stroke-width="1.0" fill="none"/>
<text x="638.3" y="213.2" font-size="8.7">N</text>
<path d="M660.00 207.25L660.00 210.75M661.52 208.12L658.48 209.88M661.52 209.88L658.48 208.12" stroke="#4a4a4a" stroke-width="1.0" fill="none"/>
<path d="M664.50 207.25L664.50 210.75M666.02 208.12L662.98 209.88M666.02 209.88L662.98 208.12" stroke="#4a4a4a" stroke-width="1.0" fill="none"/>
<text x="638.3" y="223.5" font-size="8.7">B×N</text>
<path d="M660.00 217.55L660.00 221.05M661.52 218.43L658.48 220.18M661.52 220.18L658.48 218.43" stroke="#4a4a4a" stroke-width="1.0" fill="none"/>
<path d="M664.50 217.55L664.50 221.05M666.02 218.43L662.98 220.18M666.02 220.18L662.98 218.43" stroke="#4a4a4a" stroke-width="1.0" fill="none"/>
</svg></body></html>
